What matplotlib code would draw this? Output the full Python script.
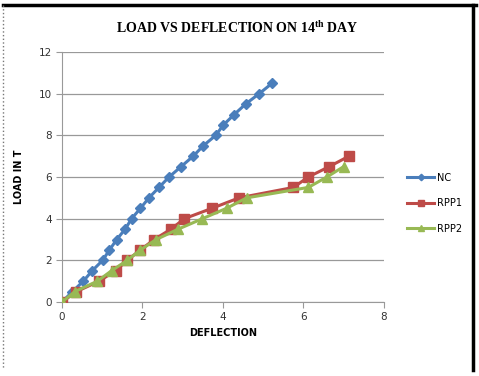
import numpy as np
import matplotlib.pyplot as plt
from matplotlib.lines import Line2D

plt.rcParams['mathtext.fontset'] = 'custom'
plt.rcParams['mathtext.rm'] = 'Liberation Serif:bold'
plt.rcParams['mathtext.bf'] = 'Liberation Serif:bold'

# data
nc_x = [0, 0.26, 0.53, 0.75, 1.01, 1.18, 1.36, 1.57, 1.73, 1.95, 2.16,
        2.41, 2.66, 2.96, 3.26, 3.51, 3.82, 4.01, 4.28, 4.56, 4.9, 5.22]
nc_y = [0, 0.5, 1, 1.5, 2, 2.5, 3, 3.5, 4, 4.5, 5,
        5.5, 6, 6.5, 7, 7.5, 8, 8.5, 9, 9.5, 10, 10.5]

rpp1_x = [0, 0.36, 0.92, 1.33, 1.62, 1.95, 2.29, 2.71, 3.04, 3.73, 4.4,
          5.75, 6.12, 6.64, 7.13]
rpp1_y = [0, 0.5, 1, 1.5, 2, 2.5, 3, 3.5, 4, 4.5, 5,
          5.5, 6, 6.5, 7]

rpp2_x = [0, 0.32, 0.88, 1.23, 1.62, 1.95, 2.34, 2.89, 3.49, 4.09, 4.59,
          6.12, 6.58, 7.0]
rpp2_y = [0, 0.5, 1, 1.5, 2, 2.5, 3, 3.5, 4, 4.5, 5,
          5.5, 6, 6.5]

fig = plt.figure(figsize=(4.79, 3.76), dpi=100)
ax = fig.add_axes([62/479, 74/376, 322/479, 250/376])

ax.plot(nc_x, nc_y, color='#4A7EBB', lw=2.2, marker='D', ms=5.5, label='NC', zorder=3)
ax.plot(rpp1_x, rpp1_y, color='#BE4B48', lw=2.2, marker='s', ms=6.5, label='RPP1', zorder=4)
ax.plot(rpp2_x, rpp2_y, color='#98B954', lw=2.2, marker='^', ms=7, label='RPP2', zorder=5)

ax.set_xlim(0, 8)
ax.set_ylim(0, 12)
ax.set_xticks(range(0, 9, 2))
ax.set_yticks(range(0, 13, 2))
ax.grid(axis='y', color='#999999', lw=0.9)
ax.set_axisbelow(True)
for s in ['top', 'right']:
    ax.spines[s].set_visible(False)
for s in ['left', 'bottom']:
    ax.spines[s].set_color('#999999')
ax.tick_params(colors='#999999', labelcolor='#333333', labelsize=7.5, length=4)
ax.set_xlabel('DEFLECTION', fontsize=7, fontweight='bold', labelpad=4)
ax.set_ylabel('LOAD IN T', fontsize=7, fontweight='bold', labelpad=10)

fig.text(0.495, 0.927, r'LOAD VS DEFLECTION ON 14$^{\mathrm{th}}$ DAY',
         fontsize=10, family='Liberation Serif', fontweight='bold', ha='center', va='center')

ax.legend(loc='center left', bbox_to_anchor=(1.045, 0.395), frameon=False,
          fontsize=7, handlelength=2.8, labelspacing=1.6, handletextpad=0.3,
          markerscale=0.6)

# outer frame
fig.add_artist(Line2D([3/479, 476/479], [1-5/376, 1-5/376], color='black', lw=2.5))
fig.add_artist(Line2D([473/479, 473/479], [1-5/376, 1-370/376], color='black', lw=2.5))
fig.add_artist(Line2D([3/479, 3/479], [1-5/376, 1-368/376], color='#777777', lw=1, ls=':'))

fig.savefig('out.png', dpi=100)
